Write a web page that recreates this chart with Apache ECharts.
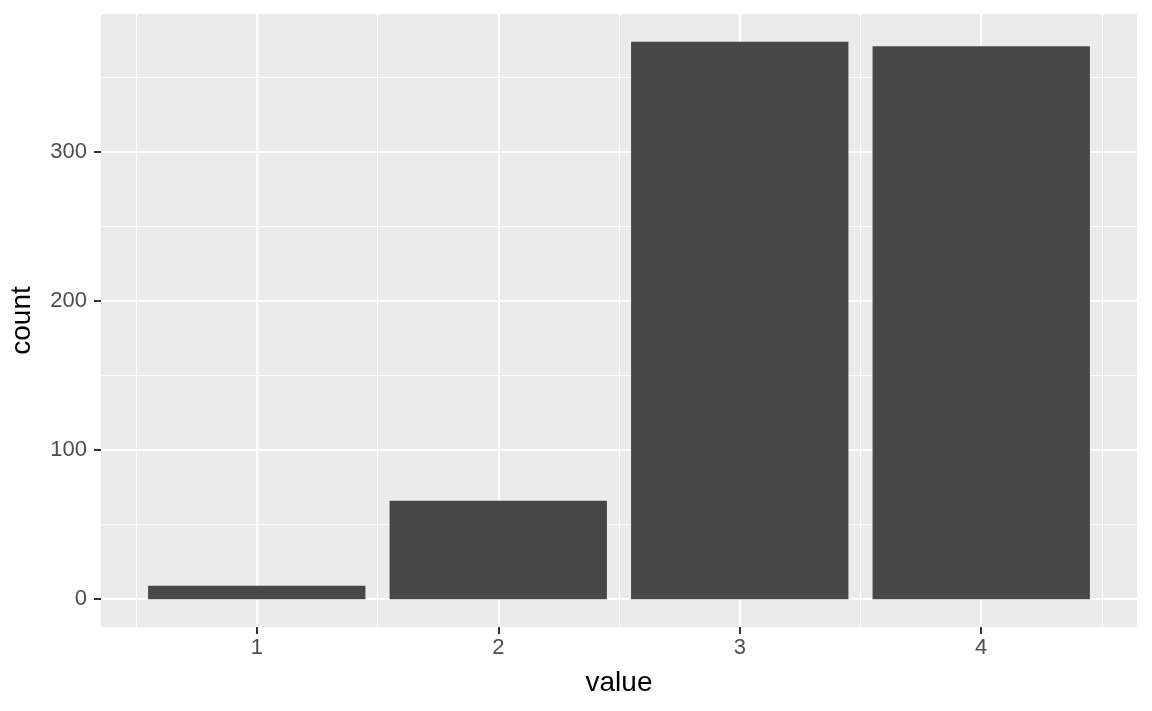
<!DOCTYPE html>
<html>
<head>
<meta charset="utf-8">
<script src="https://cdn.jsdelivr.net/npm/echarts@6/dist/echarts.min.js"></script>
<style>
html,body{margin:0;padding:0;background:#fff;}
#chart{width:1152px;height:711px;}
</style>
</head>
<body>
<div id="chart"></div>
<script>
// ---- data ----
const categories = [1, 2, 3, 4];
const counts = [9, 66, 374, 371];
const yTicks = [0, 100, 200, 300];
const xTitle = 'value';
const yTitle = 'count';

// ---- layout (panel geometry in px) ----
const W = 1152, H = 711;
const panel = { left: 101, top: 14, width: 1036, height: 613 };

// ggplot-like scale expansion
const yMaxData = Math.max(...counts);
const yMin = -0.05 * yMaxData, yMax = 1.05 * yMaxData;
const barRange = [categories[0] - 0.45, categories[categories.length - 1] + 0.45];
const xPad = 0.05 * (barRange[1] - barRange[0]);
const xMin = barRange[0] - xPad, xMax = barRange[1] + xPad;

const pxY = panel.height / (yMax - yMin);
const pxX = panel.width / (xMax - xMin);

// helper grids for gridlines (aligned to multiples of the interval)
const yLineMin = Math.floor(yMin / 100) * 100, yLineMax = Math.ceil(yMax / 100) * 100;
const gridY = {
  left: panel.left, width: panel.width,
  top: panel.top - (yLineMax - yMax) * pxY,
  height: (yLineMax - yLineMin) * pxY
};
const xLineMin = Math.floor(xMin), xLineMax = Math.ceil(xMax);
const gridX = {
  top: panel.top, height: panel.height,
  left: panel.left - (xMin - xLineMin) * pxX,
  width: (xLineMax - xLineMin) * pxX
};

const FONT = 'Liberation Sans, Arial, Helvetica, sans-serif';
const hidden = { show: false };
const noLine = { show: false, onZero: false };

const chart = echarts.init(document.getElementById('chart'), null, { renderer: 'canvas' });
chart.setOption({
  animation: false,
  backgroundColor: '#ffffff',
  grid: [
    Object.assign({ show: true, backgroundColor: '#EBEBEB', borderWidth: 0, z: 0, containLabel: false, outerBoundsMode: 'none' }, panel),
    Object.assign({ show: false, z: 1, containLabel: false, outerBoundsMode: 'none' }, gridY),
    Object.assign({ show: false, z: 1, containLabel: false, outerBoundsMode: 'none' }, gridX)
  ],
  xAxis: [
    {
      gridIndex: 0, type: 'value', min: xMin, max: xMax, z: 3,
      axisLine: noLine,
      splitLine: hidden,
      axisTick: { show: true, length: 7, customValues: categories, lineStyle: { color: '#333333', width: 2 } },
      axisLabel: { show: true, customValues: categories, margin: 10, color: '#4D4D4D', fontSize: 22, fontFamily: FONT,
        formatter: v => String(v) },
      name: xTitle, nameLocation: 'middle', nameGap: 42,
      nameTextStyle: { color: '#000000', fontSize: 28, fontFamily: FONT }
    },
    {
      gridIndex: 1, type: 'value', min: 0, max: 1, z: 1,
      axisLine: noLine, axisTick: hidden, axisLabel: hidden, splitLine: hidden
    },
    {
      gridIndex: 2, type: 'value', min: xLineMin, max: xLineMax, interval: 1, z: 1,
      axisLine: noLine, axisTick: hidden, axisLabel: hidden,
      splitLine: { show: true, lineStyle: { color: '#ffffff', width: 2.2 } },
      minorTick: { show: false, splitNumber: 2 },
      minorSplitLine: { show: true, lineStyle: { color: '#ffffff', width: 1.1 } }
    }
  ],
  yAxis: [
    {
      gridIndex: 0, type: 'value', min: yMin, max: yMax, z: 3,
      axisLine: noLine,
      splitLine: hidden,
      axisTick: { show: true, length: 7, customValues: yTicks, lineStyle: { color: '#333333', width: 2 } },
      axisLabel: { show: true, customValues: yTicks, margin: 14, color: '#4D4D4D', fontSize: 22, fontFamily: FONT,
        formatter: v => String(v) },
      name: yTitle, nameLocation: 'middle', nameGap: 65, nameRotate: 90,
      nameTextStyle: { color: '#000000', fontSize: 28, fontFamily: FONT }
    },
    {
      gridIndex: 1, type: 'value', min: yLineMin, max: yLineMax, interval: 100, z: 1,
      axisLine: noLine, axisTick: hidden, axisLabel: hidden,
      splitLine: { show: true, lineStyle: { color: '#ffffff', width: 2.2 } },
      minorTick: { show: false, splitNumber: 2 },
      minorSplitLine: { show: true, lineStyle: { color: '#ffffff', width: 1.1 } }
    },
    {
      gridIndex: 2, type: 'value', min: 0, max: 1, z: 1,
      axisLine: noLine, axisTick: hidden, axisLabel: hidden, splitLine: hidden
    }
  ],
  series: [
    {
      type: 'bar',
      xAxisIndex: 0, yAxisIndex: 0,
      data: categories.map((c, i) => [c, counts[i]]),
      barWidth: 0.9 * pxX,
      itemStyle: { color: '#474747' },
      z: 2,
      silent: true
    }
  ]
});
</script>
</body>
</html>
